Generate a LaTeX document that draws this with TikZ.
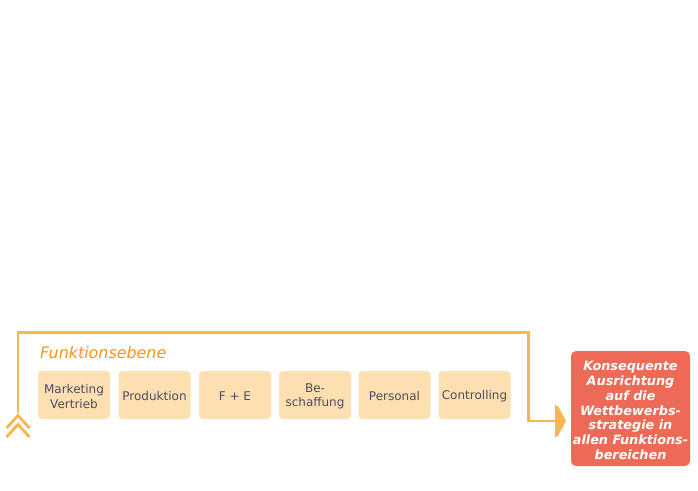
\documentclass[tikz,border=0pt]{standalone}
\usepackage{fontspec}
\setmainfont{DejaVu Sans}
\definecolor{lineor}{HTML}{F9B54F}
\definecolor{boxfill}{HTML}{FDDFB1}
\definecolor{boxtext}{HTML}{4D4D5F}
\definecolor{redbox}{HTML}{EC6A56}
\definecolor{titleor}{HTML}{F7941D}
\begin{document}
\begin{tikzpicture}[x=1pt,y=-1pt,
  funcbox/.style={draw=none,fill=boxfill,rounded corners=4pt,minimum width=72pt,minimum height=48pt,
    inner sep=0pt,align=center,text=boxtext,font=\fontsize{12}{14.5}\selectfont},
  flow/.style={draw=lineor,line width=2.4pt},
  goal/.style={fill=redbox,rounded corners=5pt,minimum width=119pt,minimum height=115pt,inner sep=0pt,
    align=center,text=white,font=\fontsize{12.8}{14.8}\selectfont\bfseries\itshape}]
\useasboundingbox (0,0) rectangle (698,490);
% function boxes
\node[funcbox] (mkt) at (74,395) {};
\node[funcbox] (prod) at (154.5,395) {};
\node[funcbox] (fe) at (235,395) {};
\node[funcbox] (besch) at (315,395) {};
\node[funcbox] (pers) at (394.5,395) {};
\node[funcbox] (contr) at (474.5,395) {};
\node[funcbox,fill=none,yshift=-1.5pt] (mktt) at (mkt) {Marketing\\Vertrieb};
\node[funcbox,fill=none,yshift=-1.5pt] (prodt) at (prod) {Produktion};
\node[funcbox,fill=none,yshift=-1.5pt] (fet) at (fe) {F + E};
\node[funcbox,fill=none,yshift=-1.5pt] (bescht) at (besch) {Be-\\schaffung};
\node[funcbox,fill=none,yshift=-1.5pt] (perst) at (pers) {Personal};
\node[funcbox,fill=none,yshift=-1.5pt] (contrt) at (contr) {Controlling};
\node[anchor=west,text=titleor,font=\fontsize{15.9}{18}\selectfont\itshape,inner sep=0pt] (title) at (40,353) {Funktionsebene};
% goal box
\node[goal] (goal) at (630.5,408.5) {};
\node[goal,fill=none,yshift=-2pt] (goalt) at (goal) {Konsequente\\Ausrichtung\\auf die\\Wettbewerbs-\\strategie in\\allen Funktions-\\bereichen};
% flow line
\coordinate (start) at (18,413);
\coordinate (tl) at (18,332.5);
\coordinate (tr) at (528.5,332.5);
\coordinate (br) at (528.5,421);
\coordinate (endp) at (556,421);
\draw[flow,line join=miter] (start) -- (tl) -- (tr) -- (br) -- (endp);
% chevrons at start
\draw[flow,line width=2.8pt] (6.5,428) -- (18,415.5) -- (29.5,428);
\draw[flow,line width=2.8pt] (6.5,437) -- (18,424.5) -- (29.5,437);
% arrow head at end
\fill[lineor] (555,405) -- (558,406) -- (566,421) -- (558,436) -- (555,437) -- cycle;
\end{tikzpicture}
\end{document}
